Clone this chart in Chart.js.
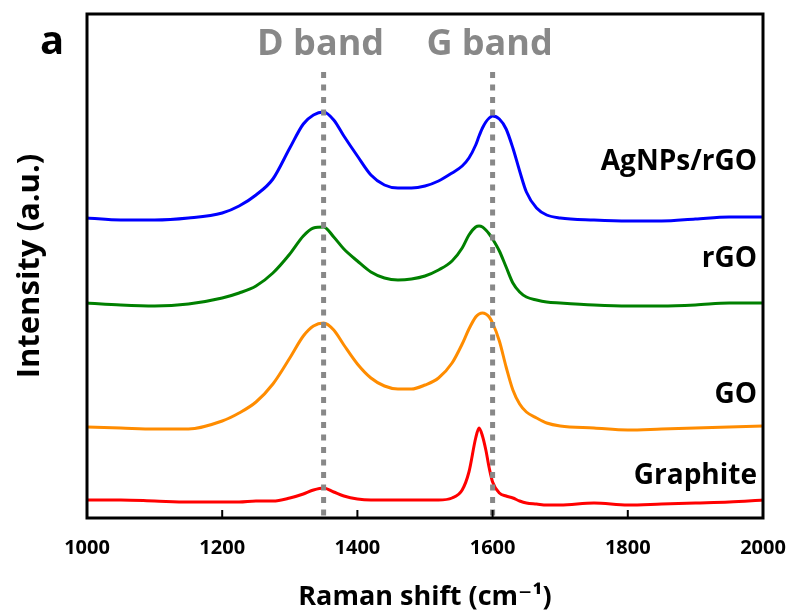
<!DOCTYPE html>
<html>
<head>
<meta charset="utf-8">
<script src="https://cdn.jsdelivr.net/npm/chart.js@4.4.0/dist/chart.umd.min.js"></script>
<style>
  html, body { margin: 0; padding: 0; background: #fff; }
</style>
</head>
<body>
<canvas id="raman" width="791" height="616"></canvas>
<script>
// Raman shift grid (cm-1) and intensities (a.u., offset stacked)
const shifts = [1000, 1050, 1100, 1150, 1200, 1225, 1250, 1275, 1300, 1320, 1335, 1350, 1365, 1380, 1400,
  1420, 1440, 1460, 1480, 1500, 1520, 1540, 1555, 1565, 1575, 1580, 1585, 1590, 1595, 1600,
  1610, 1620, 1630, 1640, 1650, 1665, 1680, 1700, 1750, 1800, 1850, 1900, 1950, 2000];

const agnpsRgo = [300, 298, 298, 300, 305, 312, 323, 339, 370, 394, 403, 406, 398, 382, 362,
  343, 333, 330, 330, 332, 337, 345, 352, 360, 373, 382, 390, 396, 400, 402,
  399, 389, 370, 347, 326, 310, 303, 300, 298, 297, 297, 299, 301, 301];

const rgo = [215, 213, 212, 214, 220, 225, 232, 245, 264, 282, 290, 291, 281, 269, 257,
  246, 240, 238, 239, 242, 248, 257, 270, 283, 291, 292, 291, 288, 284, 279,
  267, 251, 235, 226, 221, 218, 216, 215, 213, 212, 212, 213, 215, 215];

const go = [91, 90, 89, 89, 97, 105, 116, 134, 160, 182, 192, 195, 188, 173, 154,
  140, 132, 129, 129, 133, 140, 155, 174, 189, 201, 204, 205, 204, 201, 195,
  177, 151, 128, 114, 106, 100, 95, 92, 90, 88, 89, 90, 91, 92];

const graphite = [18, 18, 17, 16, 16, 16, 17, 17, 20, 24, 28, 30, 26, 22, 19,
  18, 18, 18, 18, 18, 18, 20, 28, 46, 80, 90, 82, 68, 50, 36,
  25, 22, 20, 17, 15, 14, 13, 13, 15, 13, 14, 15, 16, 18];

const seriesNames = ['AgNPs/rGO', 'rGO', 'GO', 'Graphite'];
const seriesColors = ['#0000ff', '#008000', '#ff8c00', '#ff0000'];

const bandShifts = [1350, 1600];
const bandNames = ['D band', 'G band'];
const bandTop = 446;

const xTicks = [1000, 1200, 1400, 1600, 1800, 2000];

const FONT = "'Open Sans', 'DejaVu Sans', sans-serif";

function toPoints(ys) {
  return shifts.map((x, i) => ({ x: x, y: ys[i] }));
}

const curveSets = [agnpsRgo, rgo, go, graphite].map((ys, i) => ({
  label: seriesNames[i],
  data: toPoints(ys),
  borderColor: seriesColors[i],
  borderWidth: 3,
  pointRadius: 0,
  cubicInterpolationMode: 'monotone',
  fill: false,
  order: 1
}));

const bandSets = bandShifts.map((b, i) => ({
  label: bandNames[i],
  data: [{ x: b, y: bandTop }, { x: b, y: 0 }],
  borderColor: '#888888',
  borderWidth: 5,
  borderDash: [6, 6.5],
  borderCapStyle: 'butt',
  pointRadius: 0,
  fill: false,
  order: 0
}));

// frame, inner ticks and all annotation text
const decorations = {
  id: 'decorations',
  afterDraw(chart) {
    const ctx = chart.ctx;
    const area = chart.chartArea;
    const xs = chart.scales.x;
    ctx.save();

    // ticks pointing into the plot
    ctx.strokeStyle = '#000';
    ctx.lineWidth = 2;
    xTicks.forEach(v => {
      const px = xs.getPixelForValue(v);
      ctx.beginPath();
      ctx.moveTo(px, area.bottom);
      ctx.lineTo(px, area.bottom - 8);
      ctx.stroke();
    });

    // box round the plot
    ctx.lineWidth = 3;
    ctx.strokeRect(area.left, area.top, area.right - area.left, area.bottom - area.top);

    // band labels
    ctx.fillStyle = '#888888';
    ctx.font = 'bold 36px ' + FONT;
    ctx.textAlign = 'center';
    ctx.textBaseline = 'alphabetic';
    bandShifts.forEach((b, i) => {
      ctx.fillText(bandNames[i], xs.getPixelForValue(b) - 3, area.top + 41);
    });

    // panel letter
    ctx.fillStyle = '#000';
    ctx.font = 'bold 40px ' + FONT;
    ctx.textAlign = 'left';
    ctx.fillText('a', 40, 54);

    // series names, right aligned
    const labelBase = [170, 267, 403, 484];
    ctx.font = 'bold 28px ' + FONT;
    ctx.textAlign = 'right';
    seriesNames.forEach((name, i) => {
      ctx.fillText(name, area.right - 6, labelBase[i]);
    });

    ctx.restore();
  }
};

new Chart(document.getElementById('raman'), {
  type: 'line',
  data: { datasets: curveSets.concat(bandSets) },
  options: {
    responsive: false,
    animation: false,
    layout: { padding: { top: 14, right: 28, left: 0, bottom: 0 } },
    plugins: {
      legend: { display: false },
      tooltip: { enabled: false }
    },
    scales: {
      x: {
        type: 'linear',
        min: 1000,
        max: 2000,
        afterFit: s => { s.height = 98; s.paddingLeft = 0; s.paddingRight = 0; },
        afterBuildTicks: s => { s.ticks = xTicks.map(v => ({ value: v })); },
        ticks: {
          callback: v => String(v),
          color: '#000',
          font: { family: FONT, size: 20, weight: 'bold' },
          padding: 18,
          maxRotation: 0
        },
        grid: { display: false, drawTicks: false },
        border: { display: false },
        title: {
          display: true,
          text: 'Raman shift (cm\u207B\u00B9)',
          color: '#000',
          font: { family: FONT, size: 27, weight: 'bold' },
          padding: { top: 4, bottom: 2 }
        }
      },
      y: {
        min: 0,
        max: 504,
        afterFit: s => { s.width = 87; },
        ticks: { display: false },
        grid: { display: false, drawTicks: false },
        border: { display: false },
        title: {
          display: true,
          text: 'Intensity (a.u.)',
          color: '#000',
          font: { family: FONT, size: 31, weight: 'bold' },
          padding: { top: 12, bottom: 4 }
        }
      }
    }
  },
  plugins: [decorations]
});
</script>
</body>
</html>
